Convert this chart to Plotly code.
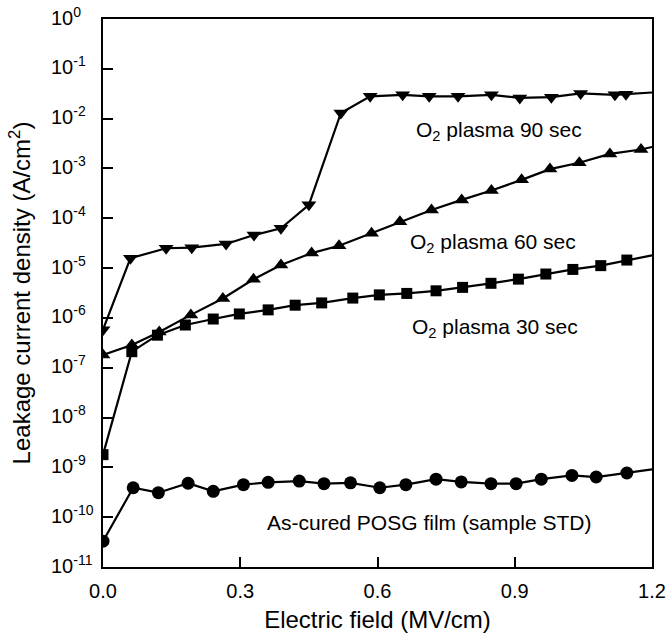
import math
import plotly.graph_objects as go

# As-cured POSG film (sample STD) - circles
x_std = [0.0, 0.066, 0.121, 0.186, 0.241, 0.307, 0.361, 0.429, 0.483, 0.541, 0.605,
         0.662, 0.728, 0.783, 0.848, 0.903, 0.958, 1.025, 1.078, 1.145, 1.2]
y_std = [3.3e-11, 3.9e-10, 3.1e-10, 4.8e-10, 3.3e-10, 4.5e-10, 5.0e-10, 5.3e-10, 4.7e-10,
         4.9e-10, 3.9e-10, 4.5e-10, 5.8e-10, 5.1e-10, 4.7e-10, 4.7e-10, 5.8e-10, 6.9e-10,
         6.4e-10, 7.7e-10, 9.1e-10]

# O2 plasma 30 sec - squares
x_30 = [0.0, 0.063, 0.119, 0.18, 0.241, 0.298, 0.361, 0.42, 0.478, 0.546, 0.604,
        0.664, 0.728, 0.786, 0.848, 0.908, 0.968, 1.027, 1.088, 1.145, 1.2]
y_30 = [1.8e-9, 2.1e-7, 4.5e-7, 7.2e-7, 9.5e-7, 1.2e-6, 1.45e-6, 1.8e-6, 2.0e-6, 2.5e-6,
        2.9e-6, 3.1e-6, 3.5e-6, 4.1e-6, 4.95e-6, 6.0e-6, 7.6e-6, 9.4e-6, 1.12e-5, 1.45e-5,
        1.8e-5]

# O2 plasma 60 sec - up triangles
x_60 = [0.0, 0.063, 0.123, 0.192, 0.262, 0.329, 0.389, 0.456, 0.516, 0.587, 0.649,
        0.718, 0.784, 0.849, 0.915, 0.977, 1.041, 1.108, 1.176, 1.2]
y_60 = [1.8e-7, 2.85e-7, 5.2e-7, 1.15e-6, 2.46e-6, 5.96e-6, 1.15e-5, 2.0e-5, 2.8e-5, 5.0e-5,
        8.5e-5, 1.47e-4, 2.34e-4, 3.6e-4, 5.9e-4, 9.7e-4, 1.3e-3, 1.96e-3, 2.4e-3, 2.7e-3]

# O2 plasma 90 sec - down triangles
x_90 = [0.0, 0.06, 0.138, 0.194, 0.269, 0.33, 0.389, 0.45, 0.52, 0.584, 0.655,
        0.713, 0.776, 0.849, 0.911, 0.98, 1.044, 1.119, 1.143, 1.2]
y_90 = [5.8e-7, 1.58e-5, 2.5e-5, 2.57e-5, 3.05e-5, 4.6e-5, 6.3e-5, 1.86e-4, 1.3e-2, 2.8e-2,
        3.0e-2, 2.8e-2, 2.8e-2, 3.0e-2, 2.6e-2, 2.7e-2, 3.2e-2, 3.0e-2, 3.1e-2, 3.35e-2]

y_exp = list(range(0, -12, -1))
y_tickvals = [10.0 ** e for e in y_exp]
y_ticktext = ["10<sup>%d</sup>" % e for e in y_exp]
x_tickvals = [0.0, 0.3, 0.6, 0.9, 1.2]
x_ticktext = ["0.0", "0.3", "0.6", "0.9", "1.2"]

labels = [
    ("O<sub>2</sub> plasma 90 sec", 0.866, -2.25),
    ("O<sub>2</sub> plasma 60 sec", 0.853, -4.5),
    ("O<sub>2</sub> plasma 30 sec", 0.857, -6.21),
    ("As-cured POSG film (sample STD)", 0.712, -10.1),
]

FONT = "Liberation Sans, Arial, sans-serif"
L, R, T, B = 103, 17, 19, 74
W, H = 669, 641

def sizes(n, s):
    return [s] * (n - 1) + [0]

fig = go.Figure()
for xs, ys, sym, ms in [
    (x_std, y_std, "circle", 13),
    (x_30, y_30, "square", 11),
    (x_60, y_60, "triangle-up", 13),
    (x_90, y_90, "triangle-down", 13),
]:
    fig.add_trace(go.Scatter(
        x=xs, y=ys, mode="lines+markers",
        line=dict(color="black", width=2.2),
        marker=dict(symbol=sym, size=sizes(len(xs), ms), color="black", opacity=1,
                    line=dict(width=0, color="black")),
        showlegend=False,
    ))

for txt, xv, yv in labels:
    fig.add_annotation(x=xv, y=yv, yref="y", xref="x", text=txt, showarrow=False,
                       font=dict(size=21, color="black", family=FONT))

# y tick labels, left-aligned as in the reference
x_lab = (49 - L) / (W - L - R)
for tv, tt in zip(y_tickvals, y_ticktext):
    fig.add_annotation(x=x_lab, xref="paper", y=math.log10(tv), yref="y",
                       text=tt, showarrow=False, xanchor="left", yanchor="middle",
                       yshift=3, font=dict(size=20, color="black", family=FONT))

fig.update_layout(
    width=W, height=H,
    margin=dict(l=L, r=R, t=T, b=B),
    paper_bgcolor="white", plot_bgcolor="white",
    font=dict(family=FONT, size=20, color="black"),
    xaxis=dict(
        range=[0, 1.2], tickvals=x_tickvals, ticktext=x_ticktext,
        ticks="inside", ticklen=10, tickwidth=1.5, tickcolor="black",
        showline=True, linecolor="black", linewidth=1.5, mirror=True,
        showgrid=False, zeroline=False, automargin=False,
        title=dict(text="Electric field (MV/cm)", standoff=10),
        ticklabelstandoff=5,
    ),
    yaxis=dict(
        type="log", range=[-11, 0], tickvals=y_tickvals,
        showticklabels=False,
        ticks="inside", ticklen=10, tickwidth=1.5, tickcolor="black",
        showline=True, linecolor="black", linewidth=1.5, mirror=True,
        showgrid=False, zeroline=False, automargin=False,
        title=dict(text="Leakage current density (A/cm<sup>2</sup>)", standoff=64),
    ),
)

fig.write_html("out.html")
